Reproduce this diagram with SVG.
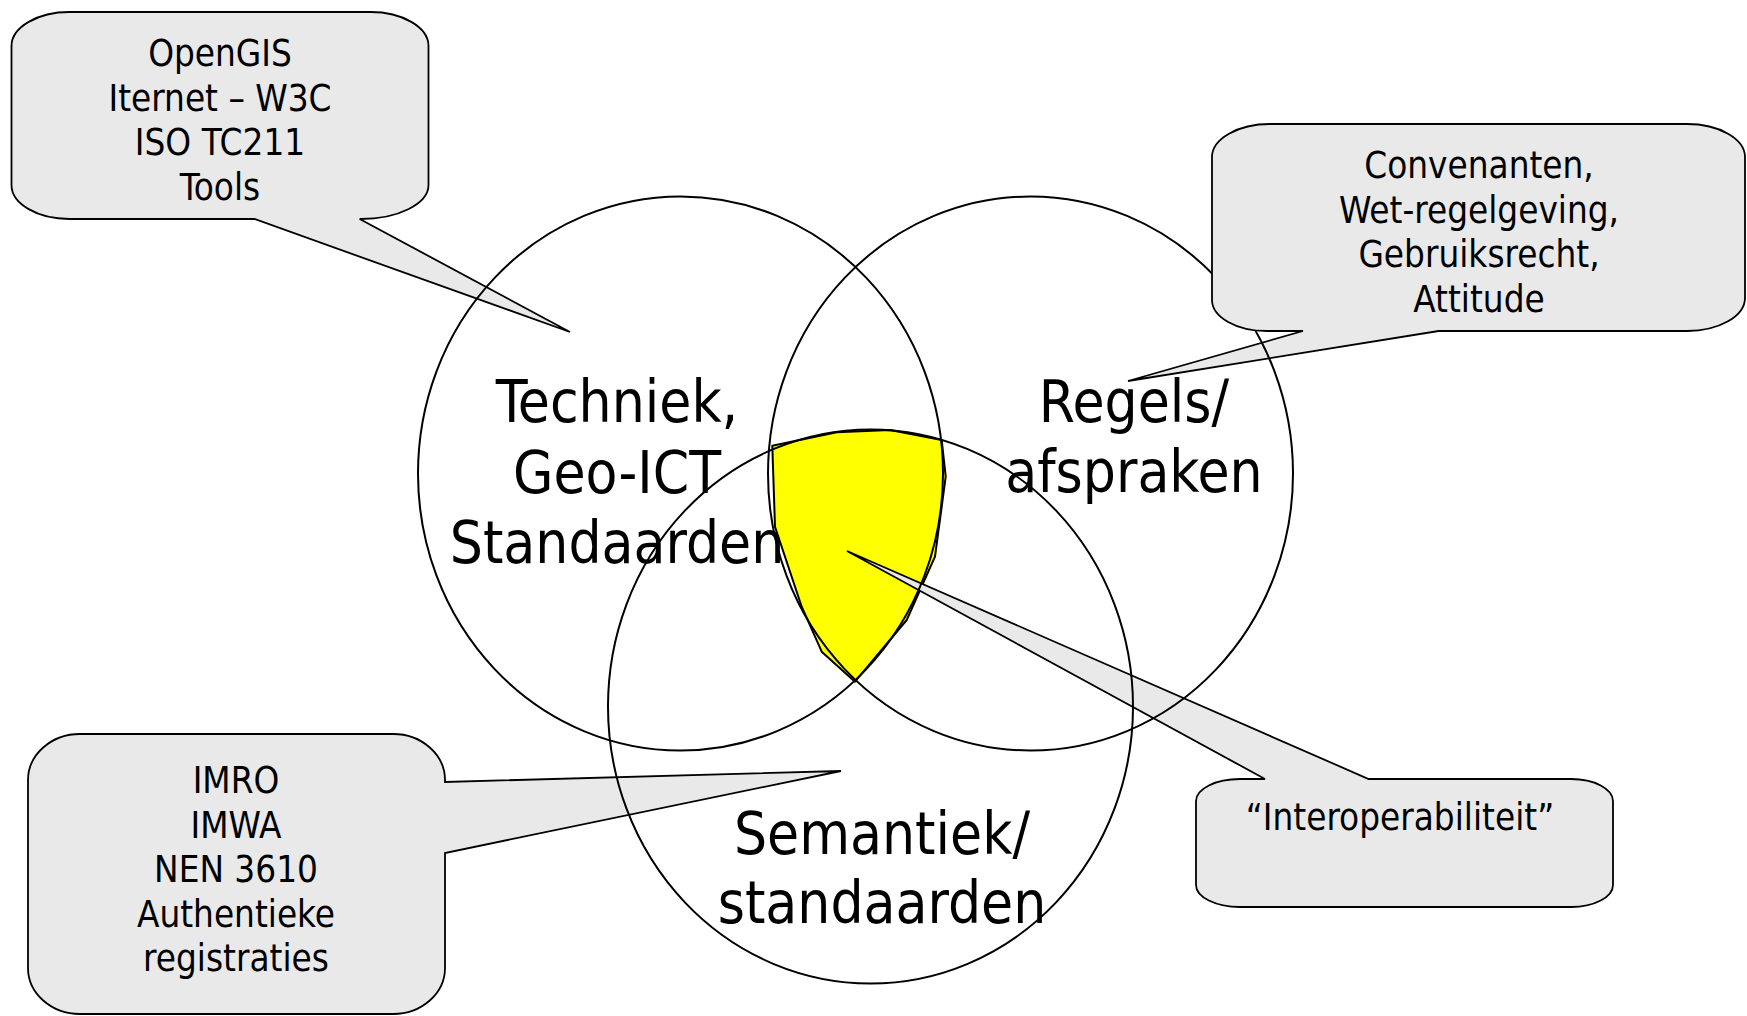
<svg xmlns="http://www.w3.org/2000/svg" width="1747" height="1016" viewBox="0 0 1747 1016">
<style>
.t{font-family:'DejaVu Sans Condensed','DejaVu Sans',sans-serif;font-stretch:condensed;text-anchor:middle;fill:#000}
.big{font-size:58px}
.small{font-size:36.5px}
.callout{fill:#e9e9e9;stroke:#000;stroke-width:1.8;stroke-linejoin:miter}
.circle{fill:none;stroke:#000;stroke-width:2}
</style>
<defs>
<clipPath id="ptr2"><polygon points="1303,331 1128,381 1438.6,331"/></clipPath>
</defs>
<rect width="1747" height="1016" fill="#fff"/>
<g id="interoperabiliteit-area">
<polygon points="772.3,445.7 836.7,432.3 890,430 941.7,440 945.7,476.7 935,556.7 906.7,620 855,681.7 821.7,651.7 801.7,606.7 775,526.7" fill="#ffff00" stroke="#000" stroke-width="2" stroke-linejoin="round"/>
</g>
<g id="callout-opengis">
<path class="callout" d="M 70,12 H 370 A 58 34 0 0 1 428.5,46 V 185 A 68 34 0 0 1 359.7,219 L 570,332 L 254.5,219 H 70 A 58 34 0 0 1 11.5,185 V 46 A 58 34 0 0 1 70,12 Z"/>
<text class="t small"><tspan x="220" y="66">OpenGIS</tspan><tspan x="220" y="110.7">Iternet – W3C</tspan><tspan x="220" y="155.4">ISO TC211</tspan><tspan x="220" y="200">Tools</tspan></text>
</g>
<g id="callout-imro">
<path class="callout" d="M 80,734 H 393 A 52 46 0 0 1 445,780 V 782 L 841,771 L 445,853 V 968 A 52 46 0 0 1 393,1014 H 80 A 52 46 0 0 1 28,968 V 780 A 52 46 0 0 1 80,734 Z"/>
<text class="t small"><tspan x="236" y="793">IMRO</tspan><tspan x="236" y="837.5">IMWA</tspan><tspan x="236" y="882">NEN 3610</tspan><tspan x="236" y="926.5">Authentieke</tspan><tspan x="236" y="971">registraties</tspan></text>
</g>
<g id="callout-interoperabiliteit">
<path class="callout" d="M 1240,779 H 1265 L 847,551 L 1368.6,779 H 1571 A 42 22 0 0 1 1613,801 V 885 A 42 22 0 0 1 1571,907 H 1240 A 44 22 0 0 1 1196,885 V 801 A 44 22 0 0 1 1240,779 Z"/>
<text class="t small" x="1400" y="830">“Interoperabiliteit”</text>
</g>
<g id="circle-techniek">
<ellipse class="circle" cx="680.5" cy="473.5" rx="262.5" ry="277"/>
<text class="t big"><tspan x="617" y="422">Techniek,</tspan><tspan x="617" y="492.5">Geo-ICT</tspan><tspan x="617" y="563">Standaarden</tspan></text>
</g>
<g id="circle-regels">
<ellipse class="circle" cx="1030.5" cy="473.5" rx="262.5" ry="277"/>
<text class="t big"><tspan x="1134" y="422">Regels/</tspan><tspan x="1134" y="492">afspraken</tspan></text>
</g>
<g id="circle-semantiek">
<ellipse class="circle" cx="870.5" cy="706.5" rx="262.5" ry="277"/>
<text class="t big"><tspan x="882" y="854">Semantiek/</tspan><tspan x="882" y="923">standaarden</tspan></text>
</g>
<g id="callout-regels">
<path d="M 1270,124 H 1687 A 58 33 0 0 1 1745,157 V 298 A 58 33 0 0 1 1687,331 H 1438.6 L 1128,381 L 1303,331 H 1267 A 55 31 0 0 1 1212,300 V 157 A 58 33 0 0 1 1270,124 Z" fill="#e9e9e9"/>
<ellipse class="circle" cx="1030.5" cy="473.5" rx="262.5" ry="277" clip-path="url(#ptr2)"/>
<path d="M 1270,124 H 1687 A 58 33 0 0 1 1745,157 V 298 A 58 33 0 0 1 1687,331 H 1438.6 L 1128,381 L 1303,331 H 1267 A 55 31 0 0 1 1212,300 V 157 A 58 33 0 0 1 1270,124 Z" fill="none" stroke="#000" stroke-width="1.8"/>
<text class="t small"><tspan x="1479" y="178">Convenanten,</tspan><tspan x="1479" y="222.6">Wet-regelgeving,</tspan><tspan x="1479" y="267.2">Gebruiksrecht,</tspan><tspan x="1479" y="311.8">Attitude</tspan></text>
</g>
</svg>
